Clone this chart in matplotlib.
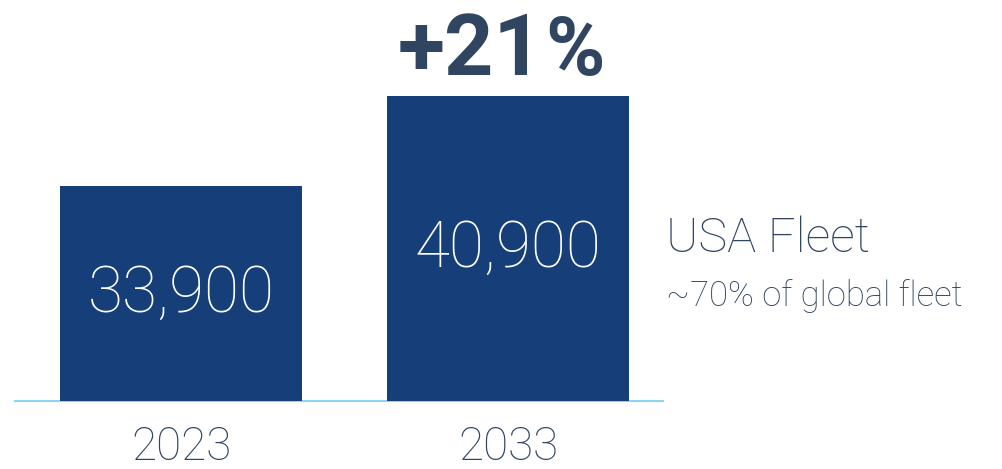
import matplotlib
matplotlib.use("Agg")
import matplotlib.pyplot as plt
from matplotlib import font_manager as fm

years = ["2023", "2033"]
fleet = [33900, 40900]
title_main = "USA Fleet"
title_sub = "~70% of global fleet"

def pick(fams, weight="normal"):
    for f in fams:
        try:
            fm.findfont(fm.FontProperties(family=f, weight=weight), fallback_to_default=False)
            return f
        except Exception:
            pass
    return "DejaVu Sans"

light_font = pick(["Roboto", "Open Sans", "Lato"], "light")
bold_font = pick(["Roboto", "Liberation Sans"], "bold")
LW = "light"

BAR = "#163F7A"
TXT = "#2F4560"
BASE = "#8FD3F0"

W, H = 1003, 469
fig = plt.figure(figsize=(W / 100, H / 100), dpi=100)
ax = fig.add_axes([15 / W, 1 - 401 / H, (663 - 15) / W, (401 - 96) / H])

x = list(range(len(years)))
ymin = 17180
ax.bar(x, [v - ymin for v in fleet], bottom=ymin, width=0.74, color=BAR)
ax.set_xlim(-0.508, 1.474)
ax.set_ylim(ymin, max(fleet))

for s in ["top", "right", "left"]:
    ax.spines[s].set_visible(False)
ax.spines["bottom"].set_color(BASE)
ax.spines["bottom"].set_linewidth(1.5)
ax.spines["bottom"].set_zorder(0)
ax.set_yticks([])
ax.set_xticks(x)
ax.set_xticklabels(years, fontsize=33, color=TXT, fontfamily=light_font, fontweight=LW)
ax.tick_params(axis="x", length=0, pad=17)

for xi, v in zip(x, fleet):
    ax.text(xi, (ymin + v) / 2, f"{v:,}", ha="center", va="center",
            color="white", fontsize=46, fontfamily=light_font, fontweight=LW)

growth = round((fleet[1] / fleet[0] - 1) * 100)
ax.annotate(f"+{growth}", xy=(1, fleet[1]), xycoords="data",
            xytext=(25.5, 15), textcoords="offset points",
            ha="right", va="baseline", fontsize=62, fontweight="bold",
            fontfamily=bold_font, color=TXT, annotation_clip=False)
ax.annotate("%", xy=(1, fleet[1]), xycoords="data",
            xytext=(27, 15), textcoords="offset points",
            ha="left", va="baseline", fontsize=58, fontweight="bold",
            fontfamily=bold_font, color=TXT, annotation_clip=False)

fig.text(666 / W, 1 - 252 / H, title_main, ha="left", va="baseline",
         fontsize=35, color=TXT, fontfamily=light_font, fontweight=LW)
fig.text(666 / W, 1 - 306 / H, title_sub, ha="left", va="baseline",
         fontsize=25, color=TXT, fontfamily=light_font, fontweight=LW)

fig.savefig("out.png", dpi=100)
